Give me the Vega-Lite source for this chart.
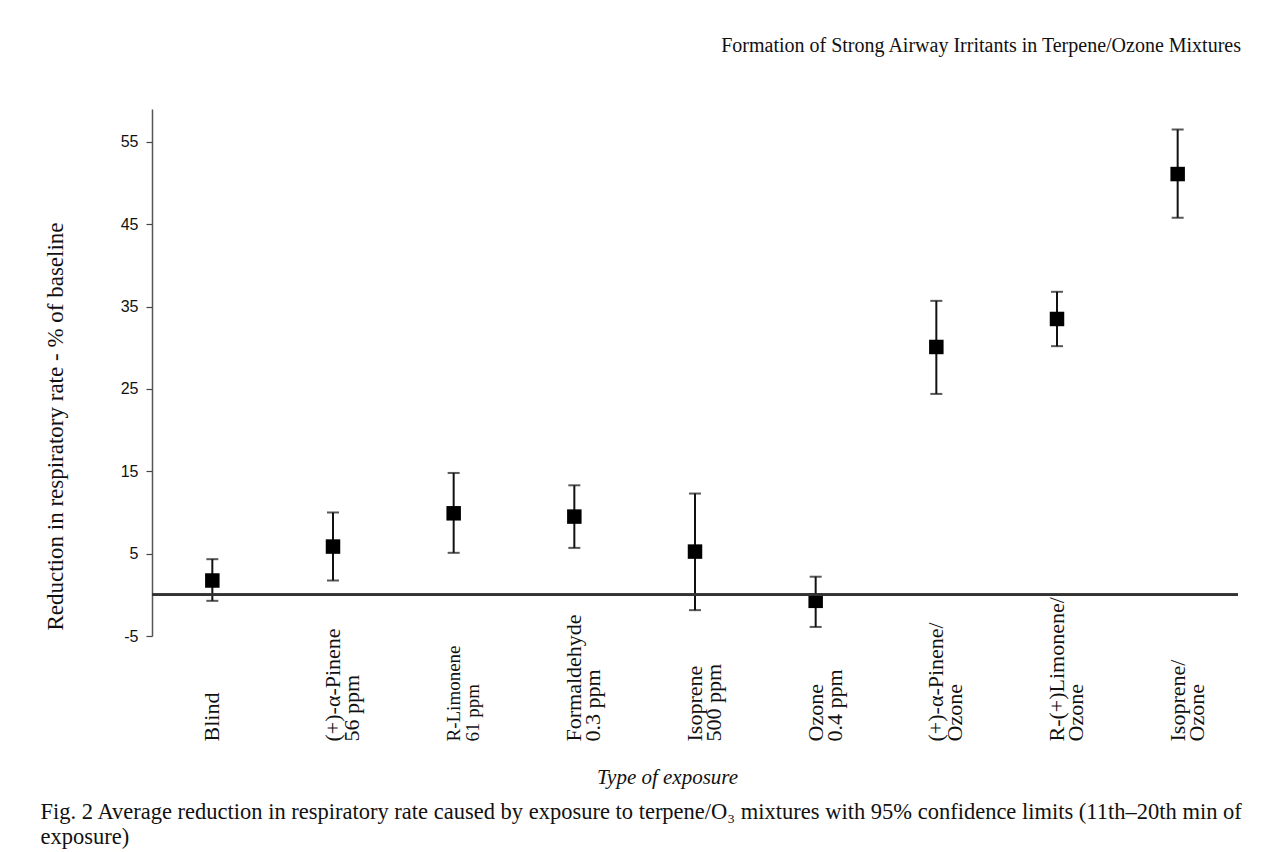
{
  "$schema": "https://vega.github.io/schema/vega-lite/v6.json",
  "width": 1086,
  "height": 527,
  "autosize": {"type": "none"},
  "padding": {"left": 152, "top": 109, "right": 40, "bottom": 216},
  "background": "white",
  "config": {
    "view": {"stroke": null},
    "font": "Liberation Serif",
    "axisY": {
      "grid": false,
      "domainColor": "#555",
      "domainWidth": 1.5,
      "tickColor": "#444",
      "tickSize": 6,
      "tickWidth": 1.2,
      "labelFont": "Liberation Sans",
      "labelFontSize": 16,
      "labelColor": "#111",
      "labelPadding": 8,
      "titleFont": "Liberation Serif",
      "titleFontSize": 23,
      "titleFontWeight": "normal",
      "titleColor": "#111",
      "titleX": -97,
      "titleY": 317,
      "titleAlign": "center",
      "titleBaseline": "middle"
    }
  },
  "title": {
    "text": "Formation of Strong Airway Irritants in Terpene/Ozone Mixtures",
    "anchor": "end",
    "frame": "group",
    "orient": "top",
    "font": "Liberation Serif",
    "fontSize": 20,
    "fontWeight": "normal",
    "color": "#111",
    "offset": 53,
    "dx": 3
  },
  "data": {
    "values": [
      {"exposure": "Blind", "mean": 1.74, "lo": -0.73, "hi": 4.33},
      {"exposure": "(+)-α-Pinene|56 ppm", "mean": 5.86, "lo": 1.74, "hi": 10.0},
      {"exposure": "R-Limonene|61 ppm", "mean": 9.9, "lo": 5.1, "hi": 14.8},
      {"exposure": "Formaldehyde|0.3 ppm", "mean": 9.5, "lo": 5.7, "hi": 13.3},
      {"exposure": "Isoprene|500 ppm", "mean": 5.25, "lo": -1.86, "hi": 12.3},
      {"exposure": "Ozone|0.4 ppm", "mean": -0.73, "lo": -3.9, "hi": 2.2},
      {"exposure": "(+)-α-Pinene/|Ozone", "mean": 30.1, "lo": 24.4, "hi": 35.7},
      {"exposure": "R-(+)Limonene/|Ozone", "mean": 33.5, "lo": 30.2, "hi": 36.8},
      {"exposure": "Isoprene/|Ozone", "mean": 51.1, "lo": 45.8, "hi": 56.5}
    ]
  },
  "resolve": {"axis": {"x": "independent", "y": "shared"}},
  "layer": [
    {
      "mark": {"type": "rule", "color": "#111", "strokeWidth": 2},
      "encoding": {
        "x": {
          "field": "exposure",
          "type": "nominal",
          "sort": null,
          "axis": {
            "orient": "bottom",
            "domain": false,
            "ticks": false,
            "grid": false,
            "labelAngle": -90,
            "labelAlign": "left",
            "labelBaseline": "middle",
            "labelPadding": 105,
            "labelOverlap": false,
            "labelBound": false,
            "labelFlush": false,
            "labelFont": "Liberation Serif",
            "labelFontSize": {"condition": {"test": "datum.value == 'R-Limonene|61 ppm'", "value": 19}, "value": 22},
            "labelColor": "#111",
            "labelLineHeight": 19,
            "labelExpr": "split(datum.label, '|')",
            "title": "Type of exposure",
            "titleFont": "Liberation Serif",
            "titleFontStyle": "italic",
            "titleFontWeight": "normal",
            "titleFontSize": 21,
            "titleColor": "#111",
            "titleX": 515,
            "titleY": 141,
            "titleAlign": "center",
            "titleBaseline": "middle"
          }
        },
        "y": {
          "field": "lo",
          "type": "quantitative",
          "scale": {"domain": [-5, 59], "nice": false, "zero": false},
          "title": "Reduction in respiratory rate - % of baseline",
          "axis": {
            "values": [-5, 5, 15, 25, 35, 45, 55],
            "labelExpr": "'' + datum.value"
          }
        },
        "y2": {"field": "hi"}
      }
    },
    {
      "mark": {"type": "tick", "size": 12, "thickness": 2, "color": "#111", "orient": "horizontal"},
      "encoding": {
        "x": {
          "field": "exposure",
          "type": "nominal",
          "sort": null,
          "axis": {
            "orient": "bottom",
            "domain": false,
            "ticks": false,
            "labels": false,
            "grid": false,
            "title": ["Fig. 2 Average reduction in respiratory rate caused by exposure to terpene/O₃ mixtures with 95% confidence limits (11th–20th min of", "exposure)"],
            "titleFont": "Liberation Serif",
            "titleFontSize": 22.5,
            "titleFontWeight": "normal",
            "titleColor": "#111",
            "titleLineHeight": 25,
            "titleX": -112,
            "titleY": 182,
            "titleAlign": "left",
            "titleBaseline": "alphabetic"
          }
        },
        "y": {"field": "lo", "type": "quantitative", "title": "Reduction in respiratory rate - % of baseline"}
      }
    },
    {
      "mark": {"type": "tick", "size": 12, "thickness": 2, "color": "#111", "orient": "horizontal"},
      "encoding": {
        "x": {"field": "exposure", "type": "nominal", "sort": null, "axis": null},
        "y": {"field": "hi", "type": "quantitative", "title": "Reduction in respiratory rate - % of baseline"}
      }
    },
    {
      "mark": {"type": "square", "size": 210, "filled": true, "color": "#000", "opacity": 1},
      "encoding": {
        "x": {"field": "exposure", "type": "nominal", "sort": null, "axis": null},
        "y": {"field": "mean", "type": "quantitative", "title": "Reduction in respiratory rate - % of baseline"}
      }
    },
    {
      "mark": {"type": "rule", "color": "#333", "strokeWidth": 2},
      "encoding": {
        "y": {"datum": 0, "type": "quantitative", "title": "Reduction in respiratory rate - % of baseline"}
      }
    }
  ]
}
